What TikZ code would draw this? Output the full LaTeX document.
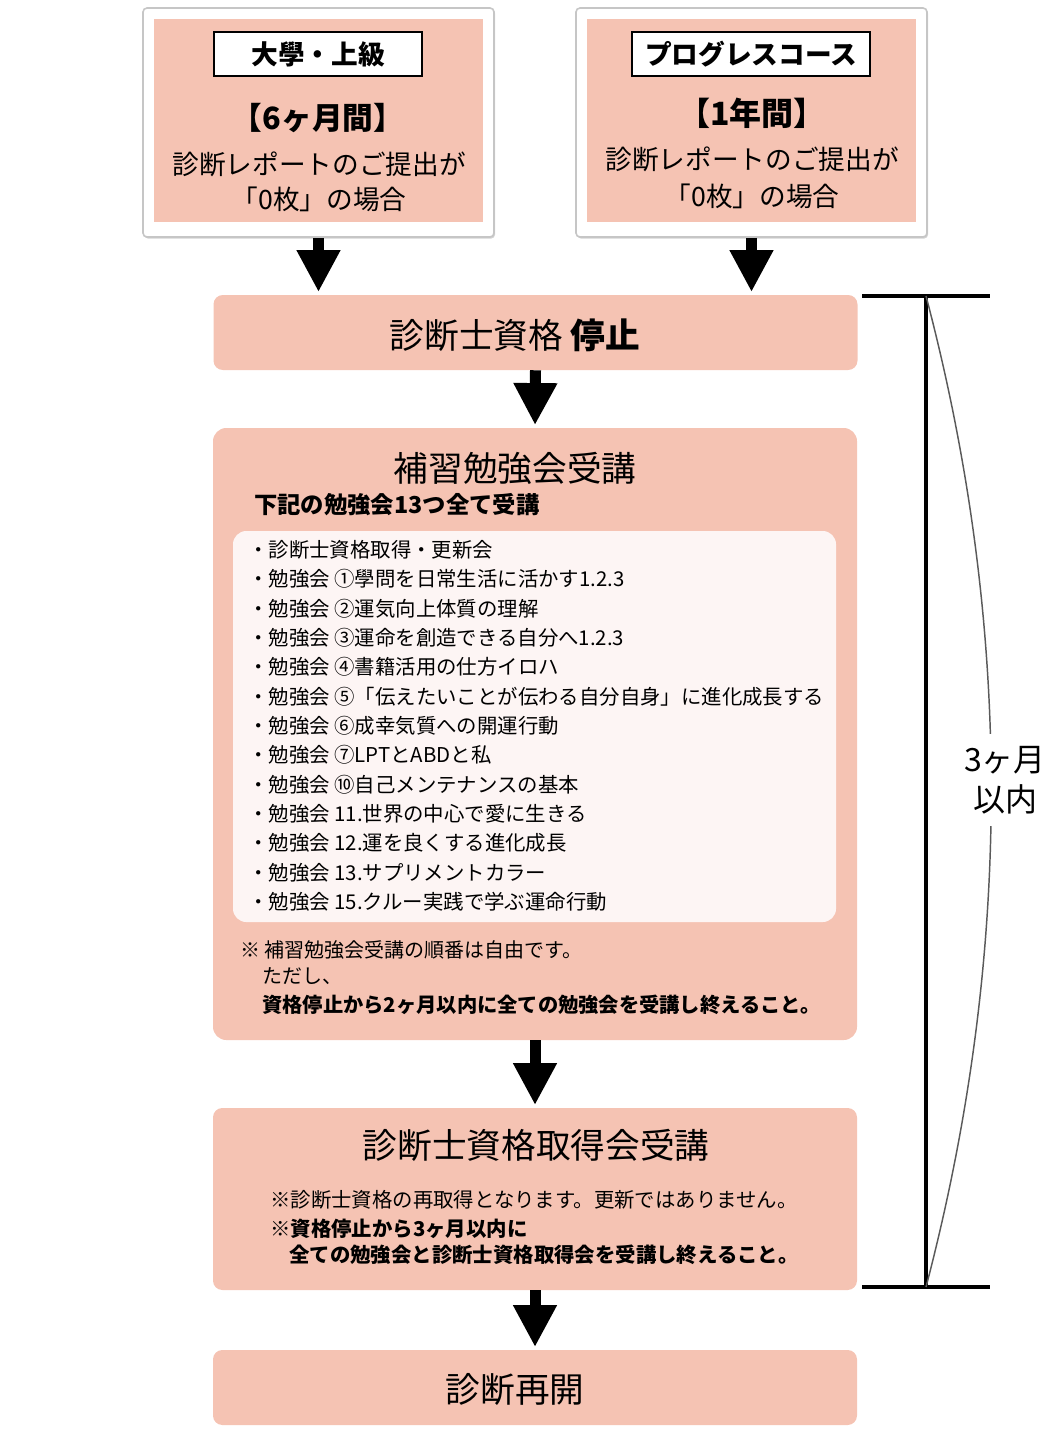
\documentclass[tikz,border=0pt]{standalone}
\usepackage{fontspec}
\setmainfont{Noto Sans CJK JP}
\usepackage{tikz}
\usetikzlibrary{arrows.meta,shadows}

\definecolor{pinkbox}{HTML}{F5C3B3}
\definecolor{listbg}{HTML}{FDF5F4}
\definecolor{curvegray}{HTML}{5A5A5A}
\newcommand{\fsz}[2]{\fontsize{#1pt}{#2pt}\selectfont}

\begin{document}
\begin{tikzpicture}[x=0.75pt,y=-0.75pt,
    outerbox/.style={draw=gray!45,line width=1.2pt,fill=white,rounded corners=3pt,
      drop shadow={shadow xshift=0.8pt,shadow yshift=-1.2pt,opacity=0.35},
      minimum width=263.25pt,minimum height=171.75pt,inner sep=0pt},
    innerbox/.style={fill=pinkbox,minimum width=246.75pt,minimum height=152.25pt,inner sep=0pt},
    labelbox/.style={draw=black,line width=1.3pt,fill=white,minimum height=33pt,inner sep=0pt,
      font=\bfseries\fsz{20}{24}},
    stepbox/.style={fill=pinkbox,rounded corners=7pt,inner sep=0pt,minimum width=483pt},
    listbox/.style={fill=listbg,rounded corners=10pt,inner sep=0pt},
    txt/.style={inner sep=0pt},
    flow/.style={-{Triangle[length=31.5pt,width=30.75pt]},line width=8.25pt,shorten >=2pt},
    bracket/.style={line width=3pt}]

\useasboundingbox (0,0) rectangle (1058,1434);

% top boxes
\node[outerbox] (daigaku) at (318.5,122.5) {};
\node[innerbox] (daigakuIn) at (318.5,120.5) {};
\node[labelbox,minimum width=156pt] (daigakuLbl) at (318,54) {大學・上級};
\node[txt,font=\bfseries\fsz{23}{26}] (daigakuTerm) at (318,118) {【6ヶ月間】};
\node[txt,align=center,font=\fsz{20}{26.5}] (daigakuCond) at (319,182) {診断レポートのご提出が\\「0枚」の場合};

\node[outerbox] (progress) at (751.5,122.5) {};
\node[innerbox] (progressIn) at (751.5,120.5) {};
\node[labelbox,minimum width=178.5pt] (progressLbl) at (751,54) {プログレスコース};
\node[txt,font=\bfseries\fsz{24}{26}] (progressTerm) at (752,113) {【1年間】};
\node[txt,align=center,font=\fsz{20}{27.5}] (progressCond) at (752,178) {診断レポートのご提出が\\「0枚」の場合};

% flow boxes
\node[stepbox,minimum height=56.25pt] (stop) at (535.5,332.5) {};
\node[txt,font=\fsz{26}{30}] (stopTxt) at (515,335) {診断士資格 \textbf{停止}};

\node[stepbox,rounded corners=10pt,minimum height=459pt] (study) at (535,734) {};
\node[txt,font=\fsz{26}{30}] (studyTitle) at (515,468) {補習勉強会受講};
\node[txt,anchor=west,font=\bfseries\fsz{17.5}{20}] (studySub) at (254,505) {下記の勉強会13つ全て受講};
\node[listbox,minimum width=452.25pt,minimum height=293.25pt] (list) at (534.5,726.5) {};
\node[txt,anchor=north west,align=left,font=\fsz{15.3}{22}] (listTxt) at (248,540) {%
・診断士資格取得・更新会\\
・勉強会 ①學問を日常生活に活かす1.2.3\\
・勉強会 ②運気向上体質の理解\\
・勉強会 ③運命を創造できる自分へ1.2.3\\
・勉強会 ④書籍活用の仕方イロハ\\
・勉強会 ⑤「伝えたいことが伝わる自分自身」に進化成長する\\
・勉強会 ⑥成幸気質への開運行動\\
・勉強会 ⑦LPTとABDと私\\
・勉強会 ⑩自己メンテナンスの基本\\
・勉強会 11.世界の中心で愛に生きる\\
・勉強会 12.運を良くする進化成長\\
・勉強会 13.サプリメントカラー\\
・勉強会 15.クルー実践で学ぶ運命行動};
\node[txt,anchor=west,font=\fsz{15}{18}] (studyNote) at (240,950) {※ 補習勉強会受講の順番は自由です。};
\node[txt,anchor=west,font=\fsz{15}{18}] (studyBut) at (262,976) {ただし、};
\node[txt,anchor=west,font=\bfseries\fsz{15.2}{18}] (studyLimit) at (262,1005) {資格停止から2ヶ月以内に全ての勉強会を受講し終えること。};

\node[stepbox,minimum height=136.5pt] (acquire) at (535,1199) {};
\node[txt,font=\fsz{26}{30}] (acquireTitle) at (536,1145) {診断士資格取得会受講};
\node[txt,anchor=west,font=\fsz{15.3}{18}] (acquireNote) at (270,1200) {※診断士資格の再取得となります。更新ではありません。};
\node[txt,anchor=west,font=\bfseries\fsz{15.3}{18}] (acquireLimit) at (270,1229) {※資格停止から3ヶ月以内に};
\node[txt,anchor=west,font=\bfseries\fsz{15.3}{18}] (acquireLimitB) at (289,1255) {全ての勉強会と診断士資格取得会を受講し終えること。};

\node[stepbox,minimum height=56.25pt] (resume) at (535,1387.5) {};
\node[txt,font=\fsz{26}{30}] (resumeTxt) at (515,1389) {診断再開};

% arrows
\draw[flow] (daigaku.south) -- (daigaku.south |- stop.north);
\draw[flow] (progress.south) -- (progress.south |- stop.north);
\draw[flow] (stop.south) -- (study.north);
\draw[flow] (study.south) -- (acquire.north);
\draw[flow] (acquire.south) -- (resume.north);

% 3 months bracket
\coordinate (brtop) at (926,296);
\coordinate (brbot) at (926,1287);
\draw[bracket] (brtop) ++(-64,0) -- ++(128,0);
\draw[bracket] (brbot) ++(-64,0) -- ++(128,0);
\draw[bracket] (brtop) -- (brbot);
\draw[curvegray,line width=1.1pt] (brtop) .. controls (1013,626) and (1013,955) .. (brbot);
\node[txt,fill=white,inner xsep=1pt,inner ysep=9pt,align=center,font=\fsz{24}{30}] (period) at (1005,780) {3ヶ月\\以内};

\end{tikzpicture}
\end{document}
